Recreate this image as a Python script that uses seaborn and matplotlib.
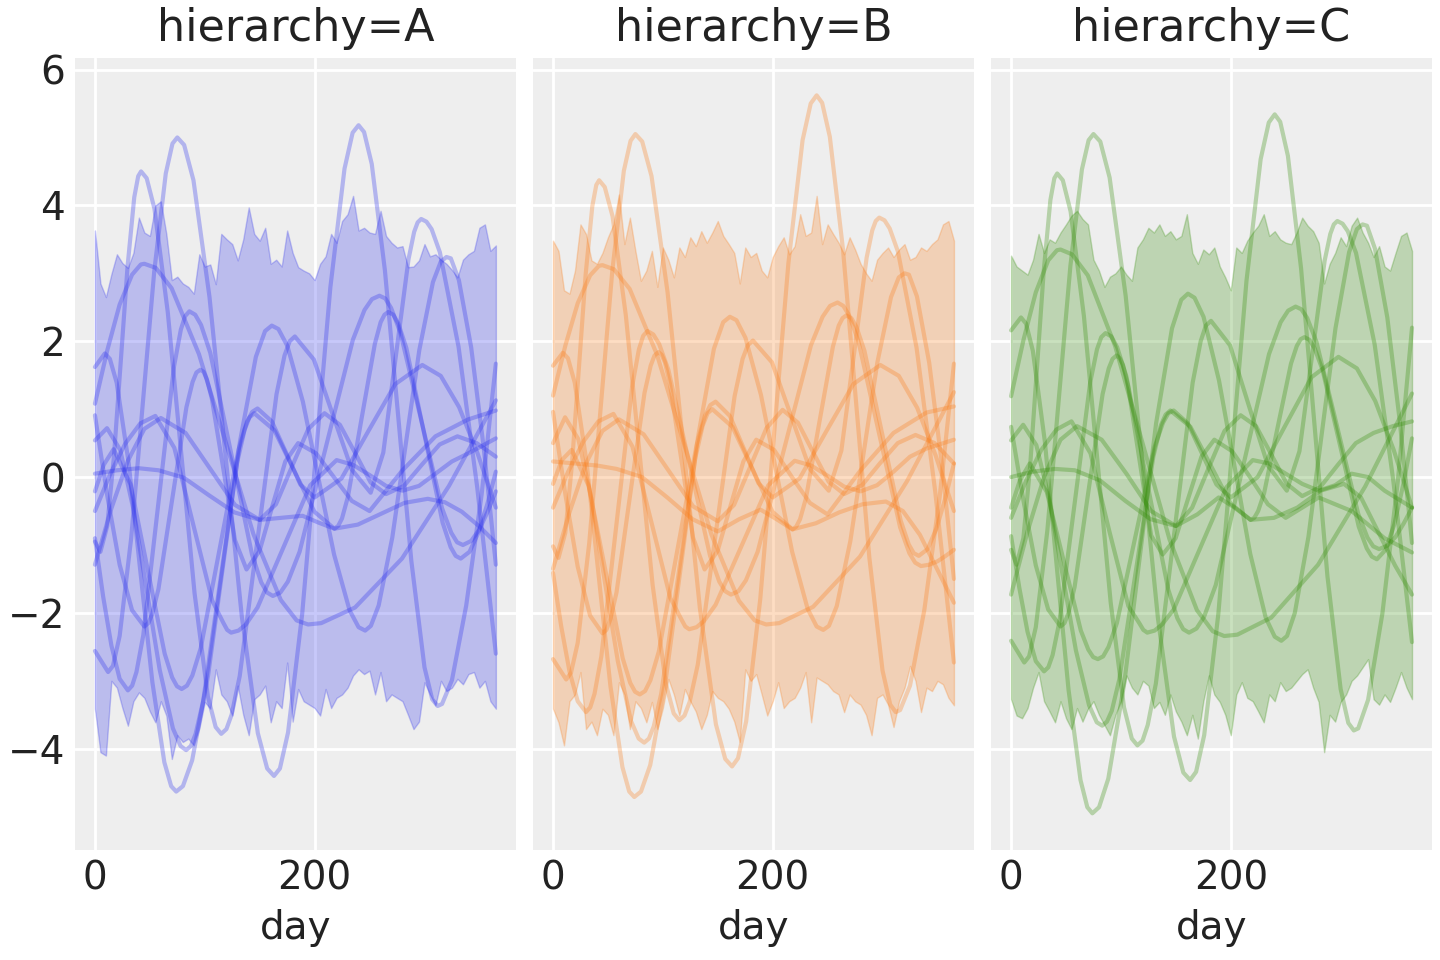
import matplotlib
matplotlib.use("Agg")
import matplotlib.pyplot as plt
import pandas as pd
import seaborn as sns

# ---------------- data ----------------
PANELS = ["A", "B", "C"]
COLORS = ["#2a2eec", "#fa7c17", "#328c06"]

BAND_DAYS = list(range(0, 366, 5))

A_UP = [3.63, 2.85, 2.65, 2.99, 3.28, 3.15, 3.08, 3.30, 3.82, 3.60,
        3.55, 4.00, 4.06, 3.58, 2.90, 2.95, 2.85, 2.80, 2.70, 3.28,
        3.10, 3.13, 2.84, 3.58, 3.50, 3.43, 3.19, 3.50, 3.97, 3.58,
        3.48, 3.67, 3.14, 3.20, 3.10, 3.63, 3.30, 3.09, 3.04, 3.00,
        2.90, 3.14, 3.25, 3.58, 3.45, 3.77, 3.87, 4.14, 3.63, 3.67,
        3.60, 3.58, 3.92, 3.55, 3.45, 3.38, 3.40, 3.09, 3.10, 3.19,
        3.43, 3.25, 3.28, 3.20, 3.14, 3.05, 2.94, 3.20, 3.28, 3.33,
        3.67, 3.72, 3.33, 3.41]
A_LO = [-3.41, -4.05, -4.10, -3.00, -3.10, -3.40, -3.66, -3.30, -3.17, -3.25,
        -3.45, -3.61, -3.30, -3.51, -4.15, -3.80, -3.90, -3.85, -3.95, -3.70,
        -3.31, -3.41, -2.83, -3.20, -3.30, -3.51, -3.07, -3.50, -3.80, -3.27,
        -3.20, -3.07, -3.61, -3.30, -3.40, -2.73, -3.60, -3.12, -3.30, -3.35,
        -3.40, -3.51, -3.12, -3.40, -3.25, -3.20, -3.10, -2.92, -2.83, -2.90,
        -2.85, -3.20, -2.87, -3.30, -3.20, -3.25, -3.30, -3.50, -3.71, -3.60,
        -3.02, -3.20, -3.36, -3.00, -3.15, -3.10, -2.97, -3.05, -2.90, -2.87,
        -3.10, -3.00, -3.30, -3.41]
B_UP = [3.48, 3.33, 2.75, 2.70, 3.04, 3.72, 3.58, 3.19, 3.14, 3.30,
        3.53, 3.72, 4.16, 3.43, 3.82, 3.33, 2.89, 3.04, 3.33, 2.80,
        3.38, 3.20, 2.94, 3.38, 3.24, 3.53, 3.40, 3.62, 3.45, 3.60,
        3.77, 3.55, 3.43, 3.30, 2.85, 3.38, 3.24, 3.30, 3.04, 2.94,
        3.24, 3.40, 3.53, 3.28, 3.40, 3.87, 3.55, 3.60, 4.14, 3.43,
        3.72, 3.58, 3.45, 3.28, 3.53, 3.35, 3.14, 3.00, 2.89, 3.20,
        3.30, 3.38, 3.24, 3.35, 3.43, 3.20, 3.24, 3.38, 3.33, 3.43,
        3.50, 3.72, 3.77, 3.48]
B_LO = [-3.41, -3.61, -3.95, -3.30, -3.20, -2.87, -3.71, -3.60, -3.80, -3.41,
        -3.50, -3.80, -3.02, -3.20, -3.71, -3.30, -3.40, -3.61, -3.31, -3.71,
        -3.40, -2.97, -3.20, -3.51, -3.12, -3.30, -3.45, -3.71, -3.50, -3.15,
        -3.25, -3.30, -3.41, -3.60, -3.90, -2.83, -3.00, -2.90, -3.20, -3.51,
        -3.30, -3.02, -3.40, -3.30, -3.25, -3.10, -2.87, -3.61, -2.95, -3.00,
        -3.05, -3.15, -3.20, -3.46, -3.20, -3.30, -3.35, -3.50, -3.80, -3.25,
        -3.20, -3.35, -3.68, -3.30, -3.10, -2.78, -3.00, -3.46, -3.10, -3.15,
        -3.00, -3.05, -3.25, -3.36]
C_UP = [3.26, 3.10, 3.04, 2.98, 3.20, 3.58, 3.30, 3.50, 3.45, 3.60,
        3.72, 3.85, 3.92, 3.80, 3.72, 3.20, 3.04, 2.80, 2.95, 3.00,
        3.10, 2.98, 2.89, 3.38, 3.50, 3.67, 3.60, 3.72, 3.55, 3.62,
        3.50, 3.55, 3.87, 3.30, 3.14, 3.35, 3.28, 3.38, 3.10, 2.94,
        2.75, 3.38, 3.30, 3.48, 3.60, 3.70, 3.87, 3.55, 3.62, 3.50,
        3.45, 3.43, 3.60, 3.82, 3.70, 3.62, 3.45, 2.85, 3.14, 3.30,
        3.53, 3.40, 3.70, 3.82, 3.60, 3.45, 3.24, 3.40, 3.10, 3.04,
        3.30, 3.55, 3.60, 3.33]
C_LO = [-3.27, -3.51, -3.55, -3.40, -3.10, -2.87, -3.30, -3.45, -3.61, -3.30,
        -3.55, -3.71, -3.40, -3.60, -3.41, -3.30, -3.50, -3.65, -3.80, -3.50,
        -3.30, -2.92, -3.10, -3.20, -3.00, -3.07, -3.40, -3.31, -3.50, -3.20,
        -3.45, -3.60, -3.80, -3.50, -3.85, -3.30, -2.92, -3.20, -3.31, -3.50,
        -3.80, -3.20, -3.02, -3.25, -3.30, -3.45, -3.61, -3.20, -3.30, -3.02,
        -3.15, -3.10, -3.00, -2.90, -2.83, -3.10, -3.31, -4.05, -3.50, -3.60,
        -3.31, -3.20, -3.00, -2.92, -2.80, -2.68, -3.27, -3.35, -3.20, -3.31,
        -3.10, -2.87, -3.10, -3.27]

# sample-curve days (shared by the three panels)
ALPHA_DAYS = [0, 12, 16.4, 22.5, 33, 43.5, 54, 64.5, 70.6, 75, 81.2, 89.7, 104.3, 119, 133.7, 148.3,
              156.8, 163, 168.4, 175.8, 188.7, 201.5, 214.3, 227.2, 234.6, 240, 245, 252, 264, 276,
              288, 300, 307, 312, 316, 325, 338, 352, 365]
BETA_DAYS = [0, 9, 13.6, 19.8, 30.7, 41.5, 52.3, 63.2, 69.4, 74, 80.1, 88.5, 103, 117.5, 132, 146.5,
             154.9, 161, 167, 175.2, 189.3, 203.5, 217.7, 231.8, 240, 246, 251.2, 258.3, 270.7, 283,
             295.3, 307.7, 314.8, 320, 324, 331.3, 342.5, 353.8, 365]
GAMMA_DAYS = [0, 5, 11.2, 17.3, 23.5, 29.7, 35.8, 39.4, 42, 47.1, 54.2, 66.3, 78.5, 90.7, 102.8, 109.9,
              115, 119.7, 124.4, 131.8, 148.5, 165.3, 172.6, 177.3, 182, 199.3, 216.5, 233.8, 251,
              262.5, 274, 285.5, 290.6, 293.8, 297, 301.8, 306.5, 314, 331, 348, 365]
DELTA_DAYS = [0, 11.3, 22.5, 33.8, 41.8, 45, 55.4, 69.8, 94.7, 119.5, 144.3, 169.2, 183.6, 194, 206,
              236.8, 279.5, 322.3, 365]
EPS_DAYS = [0, 7.5, 15, 22.5, 30, 33.9, 37.8, 44, 58, 72, 78.2, 82.1, 86, 91.3, 96.6, 105, 124, 143,
            151.4, 156.7, 162, 168.8, 175.6, 186.3, 210.5, 234.8, 245.4, 252.2, 259, 264.3, 269.6,
            278, 297, 316, 324.4, 329.7, 335, 342.5, 350, 357.5, 365]
ZETA_DAYS = [0, 11, 23, 35, 47, 59, 71, 78, 83, 87.3, 91.7, 98.5, 114, 129.5, 136.3, 140.7, 145, 163.3,
             181.5, 199.8, 218, 221.4, 224.9, 230.3, 242.5, 254.8, 260.1, 263.6, 267, 271.6, 276.2,
             283.5, 300, 316.5, 323.8, 328.4, 333, 341, 349, 357, 365]
ETA_DAYS = [0, 8, 17, 32.5, 48, 63.5, 70.3, 74.7, 79, 83.8, 88.7, 96.3, 113.5, 130.8, 138.3, 143.2,
            148, 161, 174, 187, 200, 224.5, 249, 273.5, 298, 314.8, 331.5, 348.3, 365]
THETA_DAYS = [0, 15, 30, 45, 60, 82.5, 105, 127.5, 150, 164.8, 179.5, 194.3, 209, 223, 237, 251, 265,
              281.3, 297.5, 313.8, 330, 347.5, 365]
IOTA_DAYS = [0, 11.3, 22.5, 33.8, 45, 48.6, 52.1, 57.8, 70.5, 83.3, 88.9, 92.4, 96, 98.9, 101.9, 106.5,
             117, 127.5, 138, 149.8, 161.5, 173.3, 185, 201.3, 217.5, 233.8, 250, 280, 310, 340, 365]
KAPPA_DAYS = [0, 20, 40, 58, 81, 104, 127, 150, 169.5, 189, 203.5, 218, 239.3, 260.5, 281.8, 303,
              318.5, 334, 349.5, 365]
LAMBDA_DAYS = [0, 13.8, 27.5, 41.3, 55, 72.3, 89.5, 106.8, 116.7, 120.4, 124, 130.7, 137.4, 148, 172,
               196, 220, 235, 250, 265, 280, 295, 310, 325, 340, 365]

# ---- hierarchy A ----
A_ALPHA = [-2.56, -2.87, -2.78, -2.34, -0.90, 1.07, 3.03, 4.47, 4.91, 5.0, 4.89, 4.37, 2.65, 0.30,
           -2.05, -3.77, -4.29, -4.40, -4.29, -3.76, -2.01, 0.39, 2.79, 4.54, 5.07, 5.18, 5.08, 4.61,
           3.04, 0.91, -1.23, -2.80, -3.27, -3.37, -3.34, -2.99, -1.89, -0.26, 1.67]
A_BETA = [1.62, 1.82, 1.74, 1.39, 0.21, -1.41, -3.02, -4.20, -4.55, -4.63, -4.55, -4.17, -2.92, -1.20,
          0.52, 1.77, 2.15, 2.23, 2.18, 1.93, 1.11, -0.02, -1.14, -1.96, -2.21, -2.26, -2.19, -1.89,
          -0.89, 0.49, 1.87, 2.87, 3.17, 3.24, 3.22, 2.90, 1.91, 0.45, -1.29]
A_GAMMA = [-0.95, -1.1, -0.72, 0.30, 1.70, 3.10, 4.12, 4.43, 4.5, 4.40, 3.95, 2.43, 0.36, -1.71, -3.23,
           -3.68, -3.78, -3.71, -3.50, -2.93, -0.86, 1.22, 1.79, 2.00, 2.07, 1.73, 0.92, 0.11, -0.23,
           0.36, 1.79, 3.21, 3.61, 3.75, 3.8, 3.76, 3.65, 3.31, 1.92, -0.15, -2.6]
A_DELTA = [1.08, 1.87, 2.54, 2.98, 3.13, 3.14, 3.08, 2.78, 1.81, 0.49, -0.84, -1.81, -2.11, -2.17,
           -2.15, -1.92, -1.20, -0.13, 1.13]
A_EPS = [-0.9, -1.76, -2.48, -2.97, -3.14, -3.07, -2.87, -2.33, -0.35, 1.63, 2.17, 2.37, 2.44, 2.39,
         2.24, 1.83, 0.35, -1.14, -1.55, -1.70, -1.75, -1.70, -1.54, -1.10, 0.46, 2.02, 2.46, 2.62,
         2.67, 2.63, 2.49, 2.13, 0.84, -0.46, -0.82, -0.96, -1.0, -0.94, -0.77, -0.51, -0.21]
A_ZETA = [0.54, 0.72, 0.40, -0.47, -1.65, -2.84, -3.70, -3.96, -4.02, -3.96, -3.78, -3.30, -1.54, 0.22,
          0.70, 0.88, 0.94, 0.69, 0.09, -0.51, -0.76, -0.72, -0.61, -0.29, 0.84, 1.96, 2.28, 2.39,
          2.43, 2.39, 2.26, 1.90, 0.62, -0.67, -1.03, -1.16, -1.2, -1.10, -0.82, -0.41, 0.08]
A_ETA = [-0.21, 0.18, 0.41, -0.11, -1.36, -2.60, -2.95, -3.08, -3.12, -3.07, -2.92, -2.52, -1.06, 0.41,
         0.81, 0.96, 1.01, 0.82, 0.36, -0.11, -0.3, -0.02, 0.68, 1.37, 1.65, 1.49, 1.03, 0.35, -0.45]
A_THETA = [-1.29, -0.46, 0.24, 0.71, 0.87, 0.65, 0.12, -0.41, -0.63, -0.40, 0.16, 0.71, 0.94, 0.77,
           0.35, -0.08, -0.25, -0.13, 0.18, 0.48, 0.6, 0.5, 0.3]
A_IOTA = [0.91, -0.28, -1.29, -1.96, -2.2, -2.15, -2.02, -1.65, -0.31, 1.03, 1.40, 1.54, 1.58, 1.55,
          1.44, 1.15, 0.11, -0.93, -1.36, -1.09, -0.43, 0.23, 0.5, 0.35, 0.0, -0.35, -0.5, 0.1, 0.6,
          0.85, 0.98]
A_KAPPA = [0.05, 0.1, 0.13, 0.1, -0.01, -0.27, -0.52, -0.63, -0.60, -0.57, -0.67, -0.76, -0.70, -0.54,
           -0.38, -0.32, -0.37, -0.51, -0.72, -0.97]
A_LAMBDA = [-0.5, 0.04, 0.49, 0.79, 0.9, 0.43, -0.70, -1.82, -2.14, -2.25, -2.29, -2.26, -2.17, -1.92,
            -1.02, -0.12, 0.25, 0.18, 0.03, -0.13, -0.2, -0.13, 0.05, 0.23, 0.35, 0.57]

# ---- hierarchy B ----
B_ALPHA = [-2.68, -2.98, -2.88, -2.44, -0.97, 1.04, 3.04, 4.51, 4.95, 5.05, 4.94, 4.43, 2.72, 0.40,
           -1.93, -3.64, -4.15, -4.26, -4.14, -3.60, -1.79, 0.68, 3.15, 4.96, 5.50, 5.62, 5.51, 5.01,
           3.35, 1.08, -1.19, -2.85, -3.35, -3.46, -3.43, -3.07, -1.96, -0.29, 1.67]
B_BETA = [1.64, 1.83, 1.75, 1.39, 0.20, -1.44, -3.08, -4.27, -4.63, -4.71, -4.63, -4.24, -2.94, -1.18,
          0.59, 1.89, 2.28, 2.36, 2.31, 2.05, 1.21, 0.06, -1.10, -1.94, -2.20, -2.25, -2.19, -1.90,
          -0.94, 0.38, 1.69, 2.65, 2.94, 3.0, 2.98, 2.66, 1.68, 0.22, -1.5]
B_GAMMA = [-1.02, -1.19, -0.82, 0.20, 1.59, 2.98, 3.99, 4.30, 4.37, 4.27, 3.84, 2.38, 0.40, -1.59,
           -3.05, -3.48, -3.58, -3.51, -3.31, -2.76, -0.79, 1.19, 1.74, 1.94, 2.01, 1.69, 0.91, 0.12,
           -0.2, 0.39, 1.81, 3.23, 3.63, 3.77, 3.82, 3.78, 3.66, 3.32, 1.90, -0.22, -2.73]
B_DELTA = [1.2, 1.94, 2.56, 2.97, 3.11, 3.12, 3.06, 2.77, 1.80, 0.48, -0.85, -1.82, -2.11, -2.17, -2.15,
           -1.91, -1.17, -0.06, 1.25]
B_EPS = [-1.41, -2.20, -2.86, -3.30, -3.46, -3.39, -3.19, -2.64, -0.66, 1.33, 1.88, 2.08, 2.15, 2.10,
         1.96, 1.58, 0.21, -1.16, -1.54, -1.68, -1.73, -1.68, -1.52, -1.10, 0.42, 1.94, 2.36, 2.52,
         2.57, 2.52, 2.38, 2.0, 0.63, -0.74, -1.12, -1.26, -1.31, -1.29, -1.24, -1.16, -1.07]
B_ZETA = [0.5, 0.88, 0.56, -0.32, -1.52, -2.71, -3.59, -3.85, -3.91, -3.85, -3.67, -3.19, -1.46, 0.28,
          0.76, 0.94, 1.0, 0.74, 0.12, -0.51, -0.77, -0.73, -0.62, -0.31, 0.81, 1.92, 2.23, 2.34, 2.38,
          2.34, 2.21, 1.86, 0.61, -0.64, -0.99, -1.12, -1.16, -1.06, -0.76, -0.32, 0.2]
B_ETA = [-0.1, 0.25, 0.4, -0.13, -1.40, -2.67, -3.03, -3.16, -3.2, -3.15, -2.99, -2.57, -1.05, 0.48,
         0.90, 1.06, 1.11, 0.90, 0.41, -0.09, -0.3, -0.02, 0.68, 1.37, 1.65, 1.49, 1.02, 0.32, -0.5]
B_THETA = [-1.35, -0.52, 0.2, 0.68, 0.85, 0.63, 0.1, -0.43, -0.65, -0.41, 0.15, 0.72, 0.99, 0.80,
           0.36, -0.07, -0.25, -0.12, 0.2, 0.50, 0.62, 0.5, 0.2]
B_IOTA = [0.96, -0.26, -1.32, -2.04, -2.3, -2.25, -2.10, -1.70, -0.23, 1.24, 1.64, 1.79, 1.84, 1.80,
          1.69, 1.37, 0.24, -0.89, -1.36, -1.09, -0.43, 0.23, 0.55, 0.4, 0.0, -0.38, -0.55, 0.1, 0.65,
          0.95, 1.04]
B_KAPPA = [0.23, 0.2, 0.17, 0.12, 0.0, -0.3, -0.62, -0.8, -0.62, -0.48, -0.62, -0.77, -0.68, -0.52,
           -0.4, -0.36, -0.5, -0.85, -1.35, -1.85]
B_LAMBDA = [-0.45, 0.08, 0.52, 0.82, 0.93, 0.45, -0.66, -1.78, -2.09, -2.20, -2.24, -2.21, -2.12, -1.88,
            -1.0, -0.12, 0.24, 0.17, 0.02, -0.14, -0.21, -0.12, 0.08, 0.3, 0.42, 0.55]

# ---- hierarchy C ----
C_ALPHA = [-2.41, -2.73, -2.64, -2.21, -0.79, 1.16, 3.11, 4.53, 4.96, 5.05, 4.94, 4.41, 2.67, 0.30,
           -2.08, -3.82, -4.35, -4.46, -4.34, -3.80, -2.01, 0.44, 2.89, 4.68, 5.22, 5.34, 5.23, 4.73,
           3.07, 0.81, -1.46, -3.12, -3.62, -3.73, -3.70, -3.28, -2.01, -0.07, 2.2]
C_BETA = [2.16, 2.35, 2.26, 1.86, 0.53, -1.30, -3.13, -4.46, -4.86, -4.95, -4.86, -4.44, -3.04, -1.13,
          0.79, 2.19, 2.61, 2.7, 2.64, 2.36, 1.42, 0.15, -1.13, -2.07, -2.35, -2.41, -2.34, -2.0, -0.88,
          0.66, 2.19, 3.31, 3.65, 3.72, 3.70, 3.36, 2.35, 0.83, -0.97]
C_GAMMA = [-1.07, -1.29, -0.90, 0.15, 1.59, 3.03, 4.08, 4.40, 4.47, 4.37, 3.91, 2.37, 0.26, -1.85,
           -3.39, -3.85, -3.95, -3.88, -3.65, -3.04, -0.83, 1.39, 2.0, 2.23, 2.3, 1.94, 1.05, 0.17,
           -0.2, 0.38, 1.79, 3.19, 3.58, 3.72, 3.77, 3.73, 3.62, 3.30, 1.95, -0.06, -2.43]
C_DELTA = [1.19, 2.02, 2.72, 3.19, 3.34, 3.35, 3.28, 2.97, 1.93, 0.51, -0.92, -1.96, -2.27, -2.34, -2.32,
           -2.07, -1.29, -0.14, 1.23]
C_EPS = [-0.87, -1.63, -2.28, -2.71, -2.86, -2.80, -2.62, -2.13, -0.37, 1.39, 1.88, 2.06, 2.12, 2.07,
         1.91, 1.48, -0.09, -1.65, -2.08, -2.24, -2.29, -2.23, -2.06, -1.59, 0.11, 1.81, 2.28, 2.45,
         2.51, 2.47, 2.34, 1.99, 0.73, -0.54, -0.89, -1.02, -1.06, -1.01, -0.88, -0.68, -0.45]
C_ZETA = [0.54, 0.77, 0.47, -0.34, -1.45, -2.55, -3.36, -3.61, -3.66, -3.60, -3.44, -2.98, -1.34, 0.30,
          0.76, 0.92, 0.98, 0.74, 0.18, -0.39, -0.63, -0.60, -0.50, -0.24, 0.72, 1.67, 1.93, 2.03, 2.06,
          2.02, 1.90, 1.58, 0.43, -0.73, -1.05, -1.17, -1.21, -1.07, -0.69, -0.11, 0.57]
C_ETA = [-0.45, -0.05, 0.2, -0.22, -1.24, -2.26, -2.54, -2.65, -2.68, -2.64, -2.50, -2.15, -0.85, 0.45,
         0.80, 0.94, 0.98, 0.79, 0.34, -0.11, -0.3, 0.0, 0.74, 1.47, 1.77, 1.60, 1.12, 0.40, -0.45]
C_THETA = [-1.73, -0.8, 0.0, 0.55, 0.75, 0.55, 0.05, -0.5, -0.72, -0.45, 0.12, 0.68, 0.91, 0.75,
           0.33, -0.1, -0.28, -0.15, 0.18, 0.5, 0.65, 0.75, 0.82]
C_IOTA = [0.74, -0.35, -1.3, -1.95, -2.2, -2.15, -2.01, -1.62, -0.2, 1.22, 1.60, 1.74, 1.79, 1.75, 1.65,
          1.34, 0.24, -0.86, -1.14, -0.9, -0.3, 0.3, 0.55, 0.38, 0.0, -0.4, -0.6, -0.3, -0.5, -0.9,
          -1.11]
C_KAPPA = [0.0, 0.08, 0.12, 0.1, -0.05, -0.35, -0.62, -0.72, -0.55, -0.3, -0.45, -0.63, -0.6, -0.45,
           -0.2, -0.1, -0.3, -0.8, -1.3, -1.73]
C_LAMBDA = [-0.6, -0.05, 0.4, 0.7, 0.82, 0.35, -0.8, -1.9, -2.15, -2.25, -2.29, -2.26, -2.17, -1.95,
            -1.05, -0.15, 0.25, 0.2, 0.05, -0.1, -0.2, -0.12, 0.05, 0.0, -0.2, -0.45]

CURVE_DAYS = [ALPHA_DAYS, BETA_DAYS, GAMMA_DAYS, DELTA_DAYS, EPS_DAYS, ZETA_DAYS, ETA_DAYS,
              THETA_DAYS, IOTA_DAYS, KAPPA_DAYS, LAMBDA_DAYS]
CURVES = {
    "A": [A_ALPHA, A_BETA, A_GAMMA, A_DELTA, A_EPS, A_ZETA, A_ETA, A_THETA, A_IOTA, A_KAPPA, A_LAMBDA],
    "B": [B_ALPHA, B_BETA, B_GAMMA, B_DELTA, B_EPS, B_ZETA, B_ETA, B_THETA, B_IOTA, B_KAPPA, B_LAMBDA],
    "C": [C_ALPHA, C_BETA, C_GAMMA, C_DELTA, C_EPS, C_ZETA, C_ETA, C_THETA, C_IOTA, C_KAPPA, C_LAMBDA],
}
BANDS = {"A": (A_LO, A_UP), "B": (B_LO, B_UP), "C": (C_LO, C_UP)}

# ---------------- build tables ----------------
rows = []
for p in PANELS:
    for ci, (days, vals) in enumerate(zip(CURVE_DAYS, CURVES[p])):
        if len(days) != len(vals):
            print("length mismatch", p, ci, len(days), len(vals))
        for d, v in zip(days, vals):
            rows.append({"hierarchy": p, "curve": ci, "day": d, "value": v})
curves_df = pd.DataFrame(rows)

band_rows = []
for p in PANELS:
    lo, up = BANDS[p]
    for d, l, u in zip(BAND_DAYS, lo, up):
        band_rows.append({"hierarchy": p, "day": d, "lo": l, "up": u})
band_df = pd.DataFrame(band_rows)

# ---------------- style ----------------
sns.set_theme(style="darkgrid")
TEXT = "#222222"
plt.rcParams.update({
    "axes.facecolor": "#eeeeee",
    "figure.facecolor": "white",
    "grid.color": "white",
    "grid.linewidth": 1.0,
    "axes.edgecolor": "#eeeeee",
    "text.color": TEXT,
    "axes.labelcolor": TEXT,
    "xtick.color": TEXT,
    "ytick.color": TEXT,
    "xtick.labelsize": 14,
    "ytick.labelsize": 14,
    "axes.labelsize": 14,
    "axes.titlesize": 16,
    "xtick.major.size": 0,
    "ytick.major.size": 0,
    "xtick.major.pad": 3.5,
    "ytick.major.pad": 3.5,
})
plt.rcParams["font.family"] = ["DejaVu Sans"]

fig, axes = plt.subplots(1, 3, figsize=(7.2, 4.8), dpi=200, sharey=True)
fig.subplots_adjust(left=0.052, right=0.9945, top=0.9396, bottom=0.1146, wspace=0.0386)

for ax, p, col in zip(axes, PANELS, COLORS):
    b = band_df[band_df["hierarchy"] == p]
    ax.fill_between(b["day"], b["lo"], b["up"], color=col, alpha=0.26, linewidth=0.5)
    sub = curves_df[curves_df["hierarchy"] == p]
    sns.lineplot(data=sub, x="day", y="value", units="curve", estimator=None, sort=False,
                 color=col, alpha=0.3, linewidth=1.5, ax=ax, legend=False)
    ax.set_title(f"hierarchy={p}")
    ax.set_xlabel("day")
    ax.set_ylabel("")
    ax.set_xlim(-18.25, 383.25)
    ax.set_ylim(-5.49, 6.17)
    ax.set_xticks([0, 200])
    ax.set_yticks([-4, -2, 0, 2, 4, 6])
    for s in ax.spines.values():
        s.set_visible(False)
    ax.grid(True, color="white", linewidth=1.0)
    ax.set_axisbelow(True)

fig.savefig("out.png", dpi=200)
